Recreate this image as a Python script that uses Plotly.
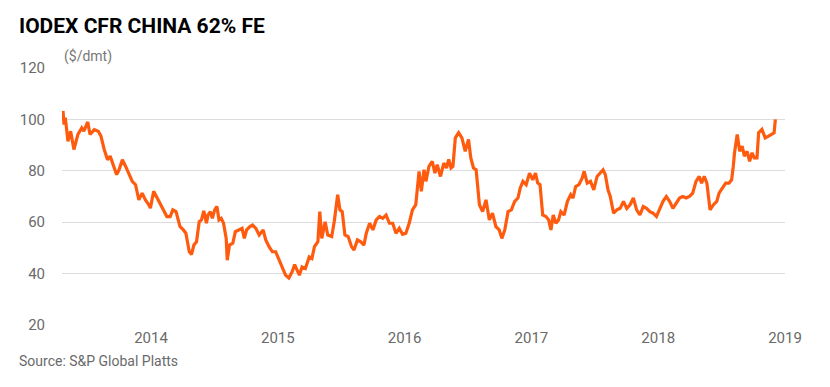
import plotly.graph_objects as go

# Time as decimal years, price in $/dmt
years = [
    2013.306, 2013.314, 2013.324, 2013.345, 2013.366, 2013.392, 2013.423, 2013.454, 2013.470, 2013.501,
    2013.519, 2013.553, 2013.584, 2013.605, 2013.631, 2013.657, 2013.678, 2013.696, 2013.729, 2013.748,
    2013.774, 2013.800, 2013.826, 2013.852, 2013.878, 2013.904, 2013.930, 2013.956, 2013.982, 2013.995,
    2014.021, 2014.047, 2014.073, 2014.099, 2014.125, 2014.151, 2014.172, 2014.197, 2014.229, 2014.255,
    2014.275, 2014.302, 2014.320, 2014.338, 2014.359, 2014.380, 2014.398, 2014.416, 2014.437, 2014.450,
    2014.468, 2014.484, 2014.502, 2014.520, 2014.536, 2014.554, 2014.572, 2014.593, 2014.601, 2014.619,
    2014.645, 2014.665, 2014.692, 2014.718, 2014.736, 2014.754, 2014.780, 2014.801, 2014.827, 2014.853,
    2014.884, 2014.905, 2014.931, 2014.957, 2014.983, 2015.009, 2015.035, 2015.061, 2015.087, 2015.113,
    2015.133, 2015.170, 2015.191, 2015.217, 2015.248, 2015.269, 2015.289, 2015.316, 2015.331, 2015.347,
    2015.373, 2015.394, 2015.425, 2015.445, 2015.472, 2015.490, 2015.508, 2015.529, 2015.555, 2015.581,
    2015.601, 2015.628, 2015.654, 2015.679, 2015.698, 2015.724, 2015.750, 2015.776, 2015.802, 2015.828,
    2015.854, 2015.880, 2015.906, 2015.932, 2015.958, 2015.984, 2016.010, 2016.036, 2016.062, 2016.088,
    2016.114, 2016.132, 2016.153, 2016.168, 2016.192, 2016.218, 2016.239, 2016.257, 2016.283, 2016.309,
    2016.330, 2016.348, 2016.366, 2016.381, 2016.400, 2016.426, 2016.452, 2016.478, 2016.504, 2016.522,
    2016.543, 2016.564, 2016.590, 2016.615, 2016.642, 2016.668, 2016.693, 2016.720, 2016.746, 2016.767,
    2016.790, 2016.816, 2016.842, 2016.868, 2016.894, 2016.912, 2016.933, 2016.959, 2016.985, 2017.011,
    2017.032, 2017.050, 2017.068, 2017.089, 2017.115, 2017.136, 2017.154, 2017.172, 2017.193, 2017.214,
    2017.232, 2017.258, 2017.284, 2017.310, 2017.328, 2017.349, 2017.375, 2017.401, 2017.416, 2017.440,
    2017.466, 2017.492, 2017.518, 2017.544, 2017.565, 2017.583, 2017.604, 2017.622, 2017.648, 2017.674,
    2017.700, 2017.726, 2017.752, 2017.778, 2017.804, 2017.830, 2017.856, 2017.882, 2017.908, 2017.934,
    2017.960, 2017.986, 2018.012, 2018.038, 2018.064, 2018.090, 2018.116, 2018.142, 2018.168, 2018.194,
    2018.220, 2018.246, 2018.272, 2018.298, 2018.324, 2018.342, 2018.363, 2018.384, 2018.394, 2018.409,
    2018.436, 2018.462, 2018.480, 2018.506, 2018.532, 2018.558, 2018.579, 2018.592, 2018.602, 2018.623,
    2018.643, 2018.662, 2018.680, 2018.701, 2018.721, 2018.740, 2018.758, 2018.779, 2018.792, 2018.818,
    2018.844, 2018.870, 2018.896, 2018.914, 2018.924,
]

prices = [
    103.3, 98.0, 100.7, 91.5, 95.4, 88.3, 94.1, 96.7, 95.4, 99.0,
    94.1, 96.0, 95.4, 93.5, 88.3, 84.3, 85.7, 83.0, 78.5, 80.4,
    84.3, 81.7, 78.5, 75.9, 74.6, 68.7, 71.3, 68.7, 66.8, 65.5,
    72.0, 69.4, 67.4, 64.8, 62.2, 62.2, 64.8, 64.1, 58.3, 57.0,
    55.7, 48.5, 47.5, 51.1, 52.4, 60.2, 60.9, 64.4, 59.6, 62.8,
    64.1, 61.5, 64.8, 66.1, 60.9, 61.5, 59.6, 53.7, 45.2, 51.1,
    51.8, 56.3, 57.0, 57.6, 53.7, 57.0, 58.3, 58.9, 57.6, 55.0,
    57.0, 53.1, 50.5, 48.5, 48.5, 45.2, 42.0, 39.4, 38.3, 40.7,
    43.5, 39.4, 42.6, 42.0, 46.5, 45.9, 50.5, 52.4, 64.1, 53.7,
    60.2, 55.0, 54.4, 60.2, 70.7, 64.8, 64.1, 55.0, 54.4, 50.5,
    49.2, 53.1, 52.4, 51.1, 55.7, 59.6, 57.0, 60.9, 62.2, 61.5,
    62.8, 59.6, 59.6, 55.7, 57.6, 55.3, 55.7, 59.6, 64.8, 66.8,
    79.8, 72.0, 80.4, 75.9, 81.7, 83.7, 79.1, 82.4, 77.8, 83.0,
    81.1, 84.4, 81.1, 81.7, 92.8, 94.8, 92.8, 87.6, 92.2, 85.0,
    81.1, 80.4, 66.8, 64.1, 68.7, 60.9, 63.5, 58.3, 57.0, 53.7,
    57.0, 64.1, 64.8, 68.1, 69.4, 73.3, 75.9, 74.6, 79.1, 76.5,
    79.1, 75.2, 74.6, 62.8, 62.2, 60.9, 57.0, 62.8, 59.6, 60.9,
    64.1, 62.8, 68.1, 70.7, 69.4, 73.9, 74.6, 77.2, 79.8, 75.2,
    75.9, 72.6, 77.8, 79.1, 80.4, 78.5, 72.6, 70.0, 63.5, 64.8,
    65.4, 68.1, 65.4, 66.8, 69.4, 64.8, 62.8, 66.1, 65.4, 64.1,
    63.5, 62.2, 64.8, 68.1, 70.0, 68.1, 65.4, 67.4, 69.4, 70.0,
    69.4, 70.0, 71.3, 75.9, 77.8, 75.2, 77.8, 75.2, 70.7, 64.8,
    66.8, 68.1, 71.3, 73.3, 75.2, 75.2, 76.5, 81.7, 87.0, 94.1,
    87.6, 89.6, 85.7, 87.6, 83.7, 87.0, 85.0, 85.0, 94.8, 96.1,
    92.8, 93.5, 94.1, 94.8, 100.0,
]

x_ticks = [2014, 2015, 2016, 2017, 2018, 2019]
x_tick_labels = ["2014", "2015", "2016", "2017", "2018", "2019"]
y_ticks = [20, 40, 60, 80, 100, 120]

title_text = "IODEX CFR CHINA 62% FE"
unit_text = "($/dmt)"
source_text = "Source: S&P Global Platts"

FONT = "Roboto, 'Open Sans', sans-serif"
GREY = "#6a6a6a"

fig = go.Figure(
    go.Scatter(
        x=years,
        y=prices,
        mode="lines",
        line=dict(color="#FF5B0F", width=3.2),
        hoverinfo="x+y",
    )
)

# The page body adds an 8px offset; work in figure coordinates.
OFF = 8
W, H = 814, 371
L, T = 54 - OFF, 68 - OFF
R = W - (785 - OFF)
B = H - (325 - OFF)
pw, ph = W - L - R, H - T - B


def px_x(x):
    return (x - OFF - L) / pw


def px_y(y):
    return (H - B - (y - OFF)) / ph


fig.update_layout(
    width=W,
    height=H,
    margin=dict(l=L, r=R, t=T, b=B, pad=0),
    paper_bgcolor="white",
    plot_bgcolor="white",
    showlegend=False,
    font=dict(family=FONT, color=GREY, size=15),
    xaxis=dict(
        range=[2013.298, 2019.0],
        tickvals=x_ticks,
        ticktext=x_tick_labels,
        showgrid=False,
        zeroline=False,
        showline=False,
        ticks="",
        ticklabelstandoff=2,
        tickfont=dict(family=FONT, size=15, color=GREY),
    ),
    yaxis=dict(
        range=[20, 120],
        tickvals=y_ticks,
        showgrid=True,
        gridcolor="#dcdcdc",
        gridwidth=1,
        zeroline=False,
        showline=False,
        ticks="",
        ticklabelstandoff=16,
        tickfont=dict(family=FONT, size=15, color=GREY),
    ),
    annotations=[
        dict(
            text=f"<b>{title_text}</b>",
            xref="paper", yref="paper",
            x=px_x(8), y=px_y(26),
            xanchor="left", yanchor="middle",
            showarrow=False,
            font=dict(family=FONT, size=21, color="#000000"),
        ),
        dict(
            text=unit_text,
            xref="paper", yref="paper",
            x=px_x(54), y=px_y(57),
            xanchor="left", yanchor="middle",
            showarrow=False,
            font=dict(family=FONT, size=14, color="#777777"),
        ),
        dict(
            text=source_text,
            xref="paper", yref="paper",
            x=px_x(8), y=px_y(361),
            xanchor="left", yanchor="middle",
            showarrow=False,
            font=dict(family=FONT, size=14, color=GREY),
        ),
    ],
)

fig.write_html("out.html")
